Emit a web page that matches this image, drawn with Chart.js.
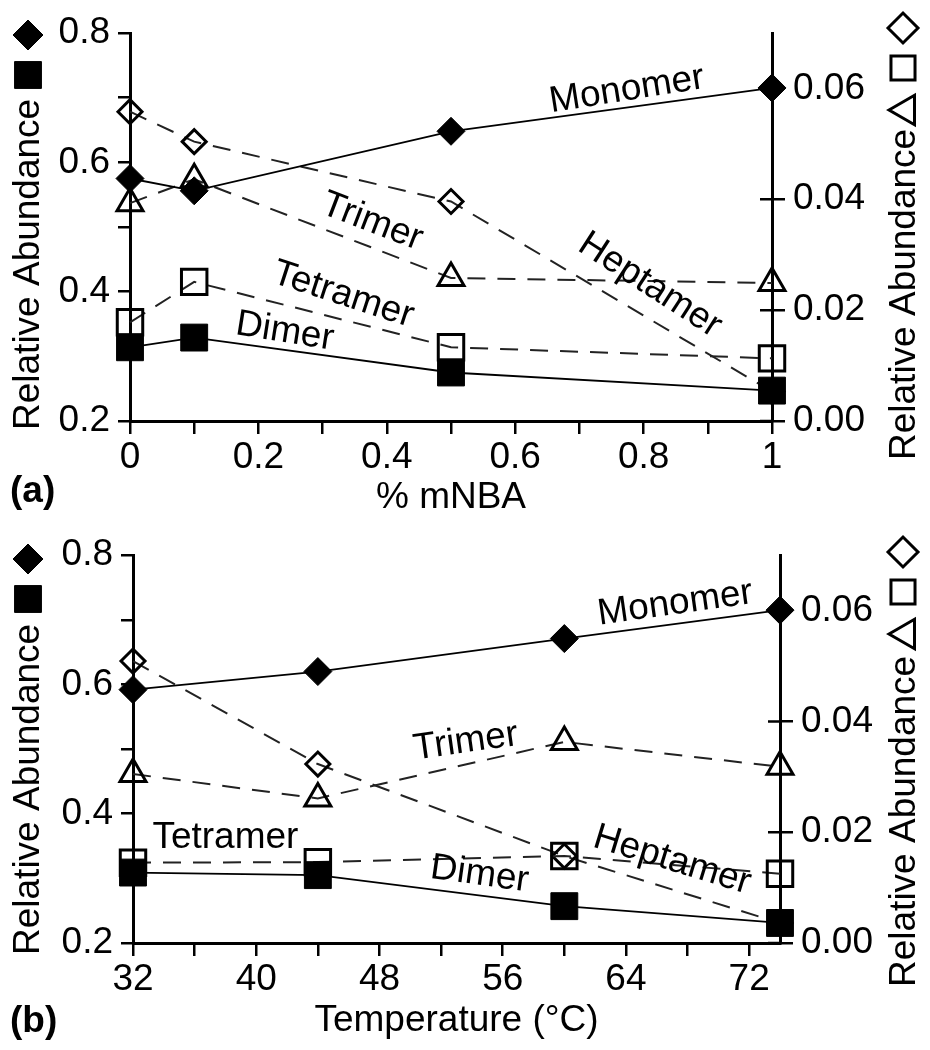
<!DOCTYPE html>
<html>
<head>
<meta charset="utf-8">
<script src="https://cdn.jsdelivr.net/npm/chart.js@4.4.0/dist/chart.umd.min.js"></script>
<style>
body { margin: 0; background: #fff; }
.panel { position: relative; width: 930px; height: 525px; }
</style>
</head>
<body>
<div class="panel"><canvas id="chartA"></canvas></div>
<div class="panel"><canvas id="chartB"></canvas></div>
<script>
// panel (a): relative abundance vs % mNBA
const mnba = [0, 0.1, 0.5, 1];
const monomerA = [0.575, 0.556, 0.648, 0.715];
const dimerA = [0.314, 0.329, 0.275, 0.247];
const tetramerA = [0.0178, 0.0251, 0.0133, 0.0113];
const trimerA = [0.0393, 0.0436, 0.0258, 0.0249];
const heptamerA = [0.0558, 0.0504, 0.0396, 0.0053];

// panel (b): relative abundance vs temperature
const temps = [32, 44, 60, 74];
const monomerB = [0.592, 0.620, 0.671, 0.715];
const dimerB = [0.309, 0.305, 0.257, 0.231];
const tetramerB = [0.0145, 0.0146, 0.0157, 0.0125];
const trimerB = [0.0305, 0.0261, 0.0363, 0.0318];
const heptamerB = [0.0509, 0.0323, 0.0157, 0.0036];

// ticks
const leftTicks = [0.2, 0.3, 0.4, 0.5, 0.6, 0.7, 0.8];
const leftLabels = ['0.2', '', '0.4', '', '0.6', '', '0.8'];
const rightTicks = [0, 0.02, 0.04, 0.06];
const rightLabels = ['0.00', '0.02', '0.04', '0.06'];
const xTicksA = [0, 0.1, 0.2, 0.3, 0.4, 0.5, 0.6, 0.7, 0.8, 0.9, 1];
const xLabelsA = ['0', '', '0.2', '', '0.4', '', '0.6', '', '0.8', '', '1'];
const xTicksB = [32, 36, 40, 44, 48, 52, 56, 60, 64, 68, 72];
const xLabelsB = ['32', '', '40', '', '48', '', '56', '', '64', '', '72'];

const FAMILY = '"Liberation Sans", "DejaVu Sans", sans-serif';
const tickFont = { family: FAMILY, size: 37 };

// draws the series names, axis titles + their symbols, panel letter and inner half of right ticks
const textPlugin = {
  id: 'textPlugin',
  afterDraw(chart, args, o) {
    const ctx = chart.ctx;
    const xs = chart.scales.x, ys = chart.scales.y, y1 = chart.scales.y1;
    const area = chart.chartArea;
    ctx.save();
    ctx.strokeStyle = '#000';
    ctx.lineWidth = 2.5;
    ctx.beginPath();
    y1.ticks.forEach(t => {
      const py = y1.getPixelForValue(t.value);
      ctx.moveTo(area.right - 12, py);
      ctx.lineTo(area.right, py);
    });
    ctx.stroke();

    ctx.fillStyle = '#000';
    ctx.font = '37px ' + FAMILY;
    ctx.textAlign = 'center';
    ctx.textBaseline = 'middle';
    o.labels.forEach(l => {
      ctx.save();
      ctx.translate(xs.getPixelForValue(l.x), ys.getPixelForValue(l.y));
      ctx.rotate(l.rot * Math.PI / 180);
      ctx.fillText(l.text, 0, 0);
      ctx.restore();
    });

    ctx.textAlign = 'left';
    ctx.textBaseline = 'alphabetic';
    [[39, o.leftTitleY], [915, o.rightTitleY]].forEach(p => {
      ctx.save();
      ctx.translate(p[0], p[1]);
      ctx.rotate(-Math.PI / 2);
      ctx.fillText('Relative Abundance', 0, 0);
      ctx.restore();
    });

    // symbol keys next to the axis titles
    o.keys.forEach(k => {
      ctx.fillStyle = k.fill ? '#000' : 'rgba(0,0,0,0)';
      ctx.strokeStyle = '#000';
      ctx.lineWidth = k.fill ? 1 : 3;
      Chart.helpers.drawPoint(ctx, { pointStyle: k.style, radius: k.r, rotation: k.rot || 0, borderWidth: ctx.lineWidth }, k.x, k.y);
    });

    ctx.fillStyle = '#000';
    ctx.font = 'bold 37px ' + FAMILY;
    ctx.fillText(o.letter, 10, o.letterY);
    ctx.restore();
  }
};

function titleKeys(dy) {
  return [
    { style: 'rectRot', r: 15, fill: true, x: 28, y: 35 + dy },
    { style: 'rect', r: 19, fill: true, x: 28, y: 75 + dy },
    { style: 'rectRot', r: 15, fill: false, x: 903, y: 28 + dy },
    { style: 'rect', r: 17, fill: false, x: 903, y: 68 + dy },
    { style: 'triangle', r: 17, fill: false, rot: -90, x: 906, y: 110 + dy }
  ];
}

function buildChart(id, c) {
  const pts = arr => c.xs.map((x, i) => ({ x: x, y: arr[i] }));
  const solid = (label, arr, style, r) => ({
    label: label, data: pts(arr), yAxisID: 'y',
    borderColor: '#000', borderWidth: 1.8,
    pointStyle: style, pointRadius: r, pointHoverRadius: r,
    pointBackgroundColor: '#000', pointBorderColor: '#000', pointBorderWidth: 1,
    clip: false
  });
  const dashed = (label, arr, style, r) => ({
    label: label, data: pts(arr), yAxisID: 'y1',
    borderColor: '#222', borderWidth: 2, borderDash: [18, 12],
    pointStyle: style, pointRadius: r, pointHoverRadius: r,
    pointBackgroundColor: 'rgba(0,0,0,0)', pointBorderColor: '#000', pointBorderWidth: 3,
    clip: false
  });
  const grid = len => ({ drawOnChartArea: false, tickLength: len, color: '#000', lineWidth: 2.5 });
  const border = { display: true, color: '#000', width: 3 };

  return new Chart(document.getElementById(id), {
    type: 'line',
    data: {
      datasets: [
        solid('Monomer', c.monomer, 'rectRot', 14),
        solid('Dimer', c.dimer, 'rect', 19),
        dashed('Tetramer', c.tetramer, 'rect', 18),
        dashed('Trimer', c.trimer, 'triangle', 15),
        dashed('Heptamer', c.heptamer, 'rectRot', 12)
      ]
    },
    options: {
      responsive: true,
      maintainAspectRatio: false,
      animation: false,
      devicePixelRatio: 1,
      events: [],
      layout: { padding: { top: c.padTop, left: 0, right: 0, bottom: 0 } },
      plugins: {
        legend: { display: false },
        tooltip: { enabled: false },
        textPlugin: c.text
      },
      scales: {
        x: {
          type: 'linear', min: c.xMin, max: c.xMax,
          afterBuildTicks: s => { s.ticks = c.xTicks.map(v => ({ value: v })); },
          afterFit: s => { s.height = c.xAxisH; },
          ticks: { autoSkip: false, maxRotation: 0, padding: 2, color: '#000', font: tickFont,
                   callback: (v, i) => c.xLabels[i] },
          grid: grid(13),
          border: border,
          title: { display: true, text: c.xTitle, color: '#000', font: tickFont,
                   padding: { top: 0, bottom: c.xTitlePad } }
        },
        y: {
          position: 'left', min: 0.2, max: 0.8,
          afterBuildTicks: s => { s.ticks = leftTicks.map(v => ({ value: v })); },
          afterFit: s => { s.width = c.leftW; },
          ticks: { autoSkip: false, padding: 8, color: '#000', font: tickFont,
                   callback: (v, i) => leftLabels[i] },
          grid: grid(12),
          border: border
        },
        y1: {
          position: 'right', min: 0, max: 0.07,
          afterBuildTicks: s => { s.ticks = rightTicks.map(v => ({ value: v })); },
          afterFit: s => { s.width = c.rightW; },
          ticks: { autoSkip: false, padding: 8, color: '#000', font: tickFont,
                   callback: (v, i) => rightLabels[i] },
          grid: grid(13),
          border: border
        }
      }
    },
    plugins: [textPlugin]
  });
}

buildChart('chartA', {
  xs: mnba, monomer: monomerA, dimer: dimerA, tetramer: tetramerA, trimer: trimerA, heptamer: heptamerA,
  xMin: 0, xMax: 1, xTicks: xTicksA, xLabels: xLabelsA, xTitle: '% mNBA',
  padTop: 33, leftW: 130, rightW: 158, xAxisH: 104, xTitlePad: 5,
  text: {
    letter: '(a)', letterY: 502, leftTitleY: 430, rightTitleY: 460, keys: titleKeys(0),
    labels: [
      { text: 'Monomer', x: 0.774, y: 0.712, rot: -9 },
      { text: 'Trimer', x: 0.377, y: 0.508, rot: 21 },
      { text: 'Tetramer', x: 0.332, y: 0.395, rot: 18 },
      { text: 'Dimer', x: 0.241, y: 0.338, rot: 9 },
      { text: 'Heptamer', x: 0.81, y: 0.41, rot: 33 }
    ]
  }
});

buildChart('chartB', {
  xs: temps, monomer: monomerB, dimer: dimerB, tetramer: tetramerB, trimer: trimerB, heptamer: heptamerB,
  xMin: 32, xMax: 74, xTicks: xTicksB, xLabels: xLabelsB, xTitle: 'Temperature (\u00B0C)',
  padTop: 28, leftW: 133, rightW: 150, xAxisH: 107, xTitlePad: 7,
  text: {
    letter: '(b)', letterY: 507, leftTitleY: 430, rightTitleY: 462, keys: titleKeys(-1),
    labels: [
      { text: 'Monomer', x: 67.2, y: 0.725, rot: -8 },
      { text: 'Trimer', x: 53.6, y: 0.511, rot: -8 },
      { text: 'Tetramer', x: 38.0, y: 0.362, rot: 0 },
      { text: 'Dimer', x: 54.5, y: 0.306, rot: 8 },
      { text: 'Heptamer', x: 67.0, y: 0.328, rot: 17 }
    ]
  }
});
</script>
</body>
</html>
